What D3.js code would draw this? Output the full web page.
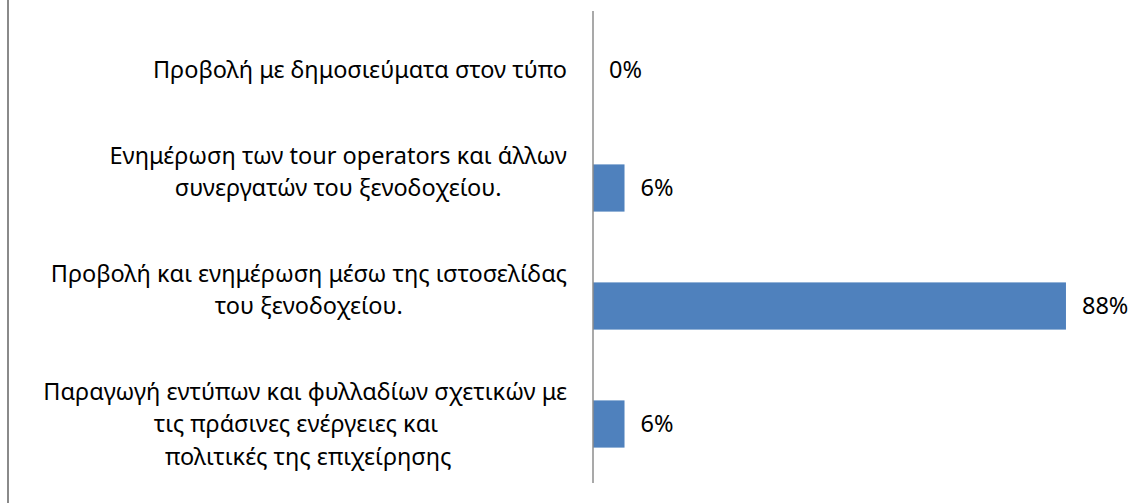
<!doctype html>
<html lang="el">
<head>
  <meta charset="utf-8">
  <title>Προβολή πράσινων ενεργειών</title>
  <style>
    body { margin: 0; background: #fff; }
    text { font-family: "Noto Sans", sans-serif; font-size: 23.5px; fill: #000; }
  </style>
</head>
<body>
<div id="mychart"></div>
<script src="https://d3js.org/d3.v7.min.js"></script>
<script>
// category labels, one entry per line (Excel-style line breaks)
var labels = [
  ["Προβολή με δημοσιεύματα στον τύπο"],
  ["Ενημέρωση των tour operators και άλλων", "συνεργατών του ξενοδοχείου.", ""],
  ["Προβολή και ενημέρωση μέσω της ιστοσελίδας", "του ξενοδοχείου.", ""],
  ["Παραγωγή εντύπων και φυλλαδίων σχετικών με",
   "τις πράσινες ενέργειες και   ",
   " πολιτικές της επιχείρησης"]
];
var values = [0, 5.88, 88.24, 5.88];   // percent

var width = 1143;
var height = 503;
var svg = d3.select("#mychart").append("svg")
  .attr("width", width)
  .attr("height", height);

var x = d3.scaleLinear()
  .domain([0, 100])
  .range([593, 1129]);

var y = d3.scaleBand()
  .domain(d3.range(values.length))
  .range([11, 483])
  .paddingInner(0.6)
  .paddingOuter(0.3);

// left frame edge
svg.append("line")
  .attr("x1", 8).attr("x2", 8)
  .attr("y1", 0).attr("y2", height)
  .attr("stroke", "#8a8a8a")
  .attr("stroke-width", 2);

svg.selectAll("rect.bar").data(values)
  .enter()
  .append("rect")
  .attr("class", "bar")
  .attr("x", x(0))
  .attr("y", function(d, i) { return y(i); })
  .attr("width", function(d) { return x(d) - x(0); })
  .attr("height", y.bandwidth())
  .attr("fill", "#4f81bd");

// category axis line
svg.append("line")
  .attr("x1", x(0)).attr("x2", x(0))
  .attr("y1", y.range()[0]).attr("y2", y.range()[1])
  .attr("stroke", "#8c8c8c")
  .attr("stroke-width", 1.5);

svg.selectAll("text.val").data(values)
  .enter()
  .append("text")
  .attr("class", "val")
  .attr("x", function(d) { return x(d) + 16; })
  .attr("y", function(d, i) { return y(i) + y.bandwidth() / 2; })
  .attr("dy", "0.35em")
  .text(function(d) { return Math.round(d) + "%"; });

var lineH = 32.5;
var rightEdge = 567;
labels.forEach(function(lines, i) {
  var cy = y(i) + y.bandwidth() / 2;
  var g = svg.append("g");
  var t = g.selectAll("text").data(lines)
    .enter()
    .append("text")
    .attr("xml:space", "preserve")
    .style("white-space", "pre")
    .attr("text-anchor", "middle")
    .attr("y", function(d, j) { return cy + (j - (lines.length - 1) / 2) * lineH; })
    .attr("dy", "0.35em")
    .text(function(d) { return d; });
  var w = d3.max(t.nodes(), function(n) { return n.getComputedTextLength(); });
  t.attr("x", rightEdge - w / 2);
});
</script>
</body>
</html>
